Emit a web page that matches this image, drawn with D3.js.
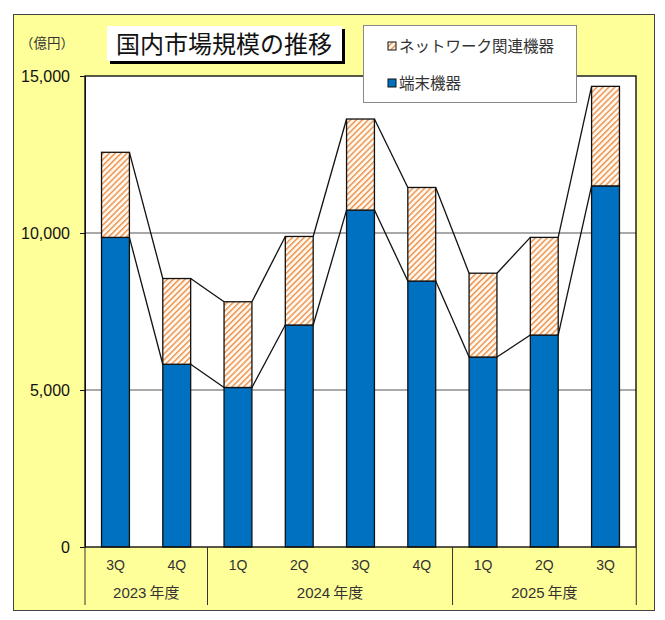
<!DOCTYPE html>
<html><head><meta charset="utf-8">
<script src="https://cdn.jsdelivr.net/npm/d3@7/dist/d3.min.js"></script>
<style>body{margin:0;background:#fff;}svg{display:block;}</style>
</head><body><svg id="c" width="665" height="620"></svg>
<script>
const quarters = ["3Q","4Q","1Q","2Q","3Q","4Q","1Q","2Q","3Q"];
const fiscalYears = ["2023年度","2024年度","2025年度"];
const yearOfBar = [0,0,1,1,1,1,2,2,2];
const terminal = [9860,5820,5080,7070,10730,8470,6050,6750,11500];
const network = [2710,2730,2730,2820,2900,2980,2670,3110,3170];
const seriesNames = ["ネットワーク関連機器","端末機器"];
const yTicks = [0,5000,10000,15000];

const JP = "'Noto Sans CJK JP','Noto Sans',sans-serif";
const LAT = "'Liberation Sans',Arial,sans-serif";
const svg = d3.select("#c");
const defs = svg.append("defs");
const pat = defs.append("pattern").attr("id","hatch").attr("patternUnits","userSpaceOnUse")
  .attr("width",4.2).attr("height",4.2).attr("patternTransform","rotate(45)");
pat.append("rect").attr("width",4.2).attr("height",4.2).attr("fill","#fff8f0");
pat.append("rect").attr("x",0).attr("width",1.5).attr("height",4.2).attr("fill","#ee9550");

// outer chart area
svg.append("rect").attr("x",13.5).attr("y",14.5).attr("width",641).attr("height",596)
  .attr("fill","#ffff99").attr("stroke","#444").attr("stroke-width",1);

const pL=85, pR=636, pT=76, pB=547;
const x = d3.scaleBand().domain(d3.range(quarters.length)).range([pL,pR]).paddingInner(0.545).paddingOuter(0.27);
const y = d3.scaleLinear().domain([0,15000]).range([pB,pT]);

svg.append("rect").attr("x",pL).attr("y",pT).attr("width",pR-pL).attr("height",pB-pT)
  .attr("fill","#fff");
// gridlines
svg.append("g").selectAll("line").data(yTicks.filter(t=>t>0 && t<15000)).join("line")
  .attr("x1",pL).attr("x2",pR).attr("y1",d=>y(d)).attr("y2",d=>y(d))
  .attr("stroke","#555").attr("stroke-width",1.2);

const stack = d3.stack().keys(["terminal","network"])(terminal.map((t,i)=>({terminal:t,network:network[i]})));
const fills = ["#0070c0","url(#hatch)"];
stack.forEach((s,k)=>{
  svg.append("g").selectAll("rect").data(s).join("rect")
    .attr("x",(d,i)=>x(i)).attr("width",x.bandwidth())
    .attr("y",d=>y(d[1])).attr("height",d=>y(d[0])-y(d[1]))
    .attr("fill",fills[k]).attr("stroke","#111").attr("stroke-width",1.3);
});
// series lines
stack.forEach(s=>{
  const segs = d3.range(s.length-1).map(i=>[[x(i)+x.bandwidth(),y(s[i][1])],[x(i+1),y(s[i+1][1])]]);
  svg.append("g").selectAll("line").data(segs).join("line")
    .attr("x1",d=>d[0][0]).attr("y1",d=>d[0][1]).attr("x2",d=>d[1][0]).attr("y2",d=>d[1][1])
    .attr("stroke","#111").attr("stroke-width",1.3);
});
// plot border
svg.append("rect").attr("x",pL).attr("y",pT).attr("width",pR-pL).attr("height",pB-pT)
  .attr("fill","none").attr("stroke","#111").attr("stroke-width",1.4);

// y axis
const ya = svg.append("g").attr("transform",`translate(${pL},0)`)
  .call(d3.axisLeft(y).tickValues(yTicks).tickSize(5).tickPadding(10).tickFormat(d3.format(",")));
ya.select(".domain").attr("stroke","#111");
ya.selectAll("line").attr("stroke","#111");
ya.selectAll("text").attr("font-family",LAT).attr("font-size",16).attr("fill","#111");

// x axis labels
const step = x.step();
svg.append("g").selectAll("text").data(quarters).join("text")
  .attr("x",(d,i)=>x(i)+x.bandwidth()/2).attr("y",570)
  .attr("text-anchor","middle").attr("font-family",LAT).attr("font-size",14).attr("fill","#333")
  .text(d=>d);
const groups = fiscalYears.map((fy,g)=>{
  const idx = yearOfBar.map((v,i)=>v===g?i:-1).filter(i=>i>=0);
  return {fy, start:d3.min(idx), end:d3.max(idx)};
});
const bx = i => pL + i*step;
const seps = [0].concat(groups.map(g=>g.end+1));
svg.append("g").selectAll("line").data(seps).join("line")
  .attr("x1",d=>bx(d)).attr("x2",d=>bx(d)).attr("y1",pB).attr("y2",605)
  .attr("stroke","#333").attr("stroke-width",1);
const yl = svg.append("g").selectAll("text").data(groups).join("text")
  .attr("x",d=>(bx(d.start)+bx(d.end+1))/2).attr("y",598)
  .attr("text-anchor","middle").attr("font-family",JP).attr("font-size",15).attr("fill","#333");
yl.append("tspan").attr("font-family",LAT).text(d=>d.fy.slice(0,4));
yl.append("tspan").attr("dx",3).text(d=>d.fy.slice(4));

// unit
svg.append("text").attr("x",20).attr("y",48).attr("font-family",JP).attr("font-size",13.5).attr("fill","#333").text("（億円）");

// title
svg.append("rect").attr("x",110).attr("y",29).attr("width",235).attr("height",35).attr("fill","#000");
svg.append("rect").attr("x",107).attr("y",26).attr("width",235).attr("height",35).attr("fill","#fff");
svg.append("text").attr("x",224).attr("y",53).attr("text-anchor","middle").attr("font-family",JP)
  .attr("font-size",24).attr("fill","#111").text("国内市場規模の推移");

// legend
const lg = svg.append("g");
lg.append("rect").attr("x",363.5).attr("y",25.5).attr("width",213).attr("height",77)
  .attr("fill","#fff").attr("stroke","#888").attr("stroke-width",1);
const legendFills = ["url(#hatch)","#0070c0"];
seriesNames.forEach((n,i)=>{
  const cy = 46 + i*37;
  lg.append("rect").attr("x",388).attr("y",cy-4).attr("width",8).attr("height",8)
    .attr("fill",legendFills[i]).attr("stroke","#111").attr("stroke-width",1);
  lg.append("text").attr("x",399).attr("y",cy+5.5).attr("font-family",JP).attr("font-size",15.5)
    .attr("fill","#333").text(n);
});
</script></body></html>
